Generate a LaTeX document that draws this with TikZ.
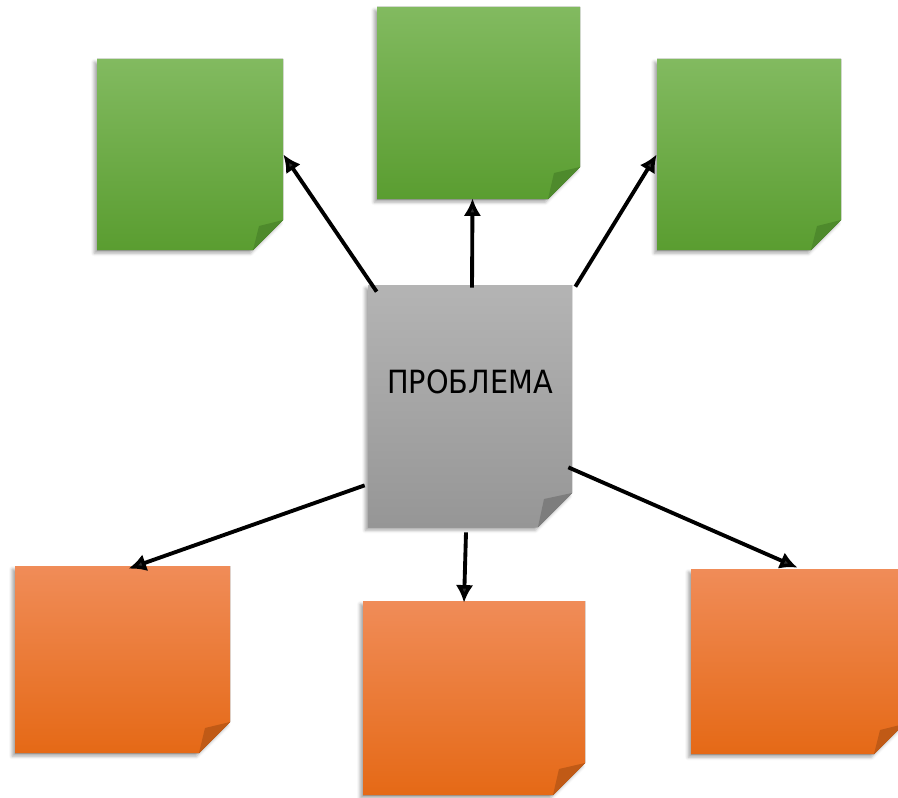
\documentclass[tikz,border=0pt]{standalone}
\usepackage{fontspec}
\setmainfont{DejaVu Sans}
\usetikzlibrary{calc,fit,arrows.meta,shadows.blur}

% sticky-note palettes
\definecolor{grnTop}{RGB}{130,186,96}
\definecolor{grnMid}{RGB}{110,177,62}
\definecolor{grnBot}{RGB}{90,157,48}
\definecolor{grnFold}{RGB}{78,138,44}
\definecolor{orgTop}{RGB}{240,140,88}
\definecolor{orgMid}{RGB}{244,124,38}
\definecolor{orgBot}{RGB}{229,105,22}
\definecolor{orgFold}{RGB}{192,90,22}
\definecolor{gryTop}{RGB}{180,180,180}
\definecolor{gryMid}{RGB}{165,165,165}
\definecolor{gryBot}{RGB}{150,150,150}
\definecolor{gryFold}{RGB}{125,125,125}

\tikzset{
  notepaper/.style={blur shadow={shadow xshift=-1.6pt, shadow yshift=-1.8pt,
      shadow opacity=35, shadow blur radius=1.8pt}},
  link/.style={line width=2.2pt, -{Latex[length=10pt,width=10pt]}},
  notefit/.style={inner sep=0pt, draw=none},
  title/.style={font=\fontsize{18.2}{21}\selectfont, text=black, inner sep=0pt}
}

% \stickynote{name}{x1}{y1}{x2}{y2}{fold}{palette}
\newcommand\stickynote[7]{%
  \fill[notepaper, top color=#7Top, middle color=#7Mid, bottom color=#7Bot]
    (#2,#3) -- (#4,#3) -- (#4,#5-#6) -- (#4-#6,#5) -- (#2,#5) -- cycle;
  \fill[#7Fold] (#4,#5-#6) -- (#4-#6,#5) -- (#4-#6+6,#5-#6+6) -- cycle;
  \node[notefit, fit={(#2,#3) (#4,#5)}] (#1) {};
}

\begin{document}
\begin{tikzpicture}[x=0.02cm, y=-0.02cm]
  \useasboundingbox (0,0) rectangle (898,797);

  % upper row
  \stickynote{gl}{97}{59}{283}{250}{30}{grn}
  \stickynote{gm}{377}{7}{580}{199}{32}{grn}
  \stickynote{gr}{657}{59}{841}{250}{30}{grn}

  % central note
  \stickynote{c}{368}{285}{572}{527}{34}{gry}
  \node[title] (lbl) at (470,382) {\scalebox{0.9}[1]{ПРОБЛЕМА}};

  % lower row
  \stickynote{ol}{15}{566}{230}{753}{31}{org}
  \stickynote{om}{363}{601}{585}{795}{32}{org}
  \stickynote{or}{691}{569}{904}{754}{30}{org}

  % connectors
  \draw[link] ([shift={(9,7)}]c.north west) -- (gl.east);
  \draw[link] ([shift={(2,3)}]c.north) -- ([shift={(-6,-1)}]gm.south);
  \draw[link] ([shift={(3,2)}]c.north east) -- (gr.west);
  \draw[link] ([shift={(-3,-42)}]c.south west) -- ([shift={(6,3)}]ol.north);
  \draw[link] ([shift={(-4,5)}]c.south) -- ([shift={(-10,2)}]om.north);
  \draw[link] ([shift={(-4,-60)}]c.south east) -- ([shift={(0,-1)}]or.north);
\end{tikzpicture}
\end{document}
